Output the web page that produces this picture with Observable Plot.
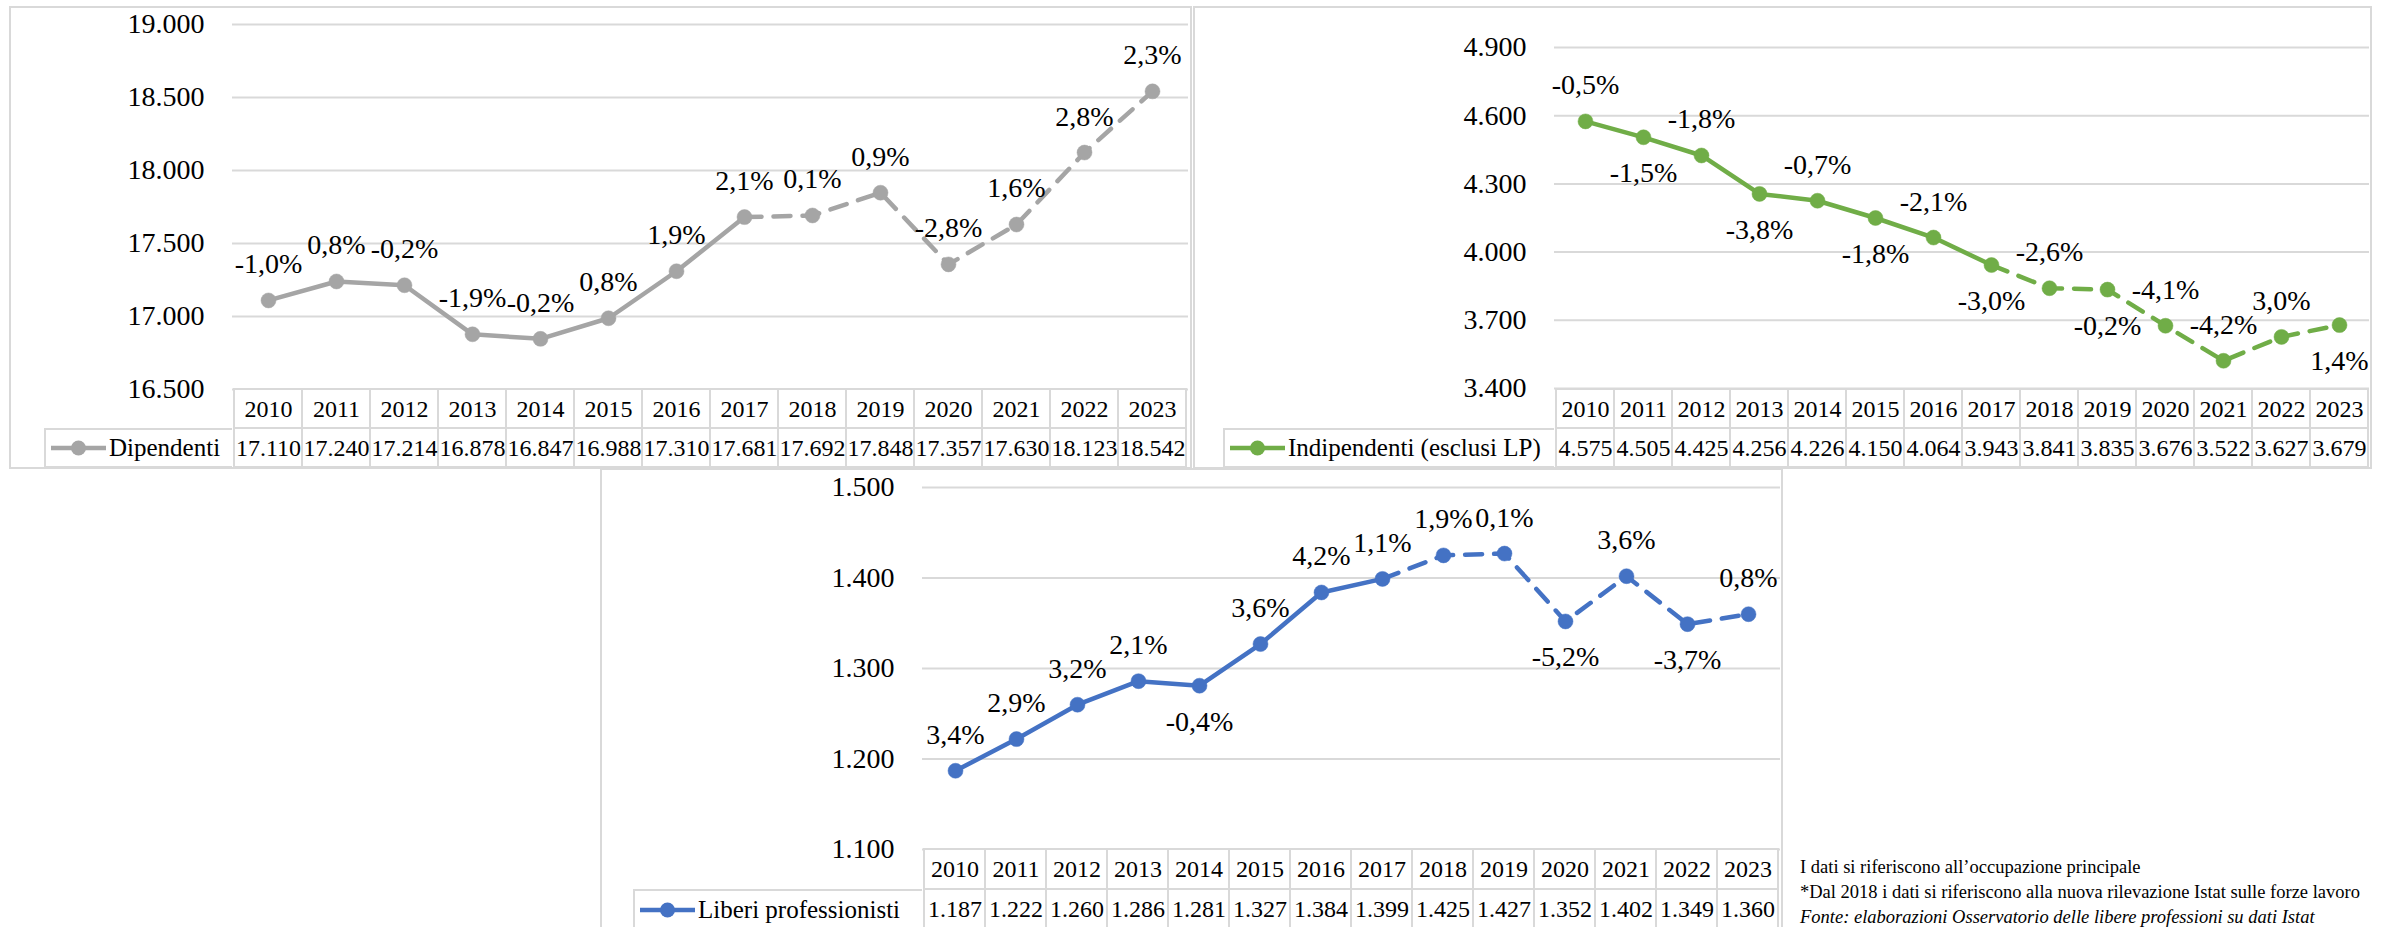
<!DOCTYPE html>
<html lang="it">
<head>
<meta charset="utf-8">
<script src="https://cdn.jsdelivr.net/npm/d3@7"></script>
<script src="https://cdn.jsdelivr.net/npm/@observablehq/plot@0.6"></script>
<style>
  html, body { margin: 0; padding: 0; background: #fff; }
  body { width: 2392px; height: 927px; overflow: hidden; position: relative; font-family: "Liberation Serif", serif; color: #000; }
  .pannello { position: absolute; box-sizing: border-box; border: 2px solid #d9d9d9; background: #fff; }
  .strato { position: absolute; }
  .strato svg { overflow: visible; font-family: "Liberation Serif", serif !important; }
  .legenda { position: absolute; box-sizing: border-box; border: 2px solid #d9d9d9; border-right: none; background: #fff;
             display: flex; align-items: center; font-size: 25px; white-space: nowrap; padding-left: 5px; }
  .legenda svg { margin-right: 3px; flex: none; }
  .note { position: absolute; left: 1800px; font-size: 18.5px; white-space: nowrap; line-height: 25px; }
  .note i { font-style: italic; }
</style>
</head>
<body>
<script>
// Anni della serie
const anni = [2010, 2011, 2012, 2013, 2014, 2015, 2016, 2017, 2018, 2019, 2020, 2021, 2022, 2023];
// Ultimo anno della vecchia rilevazione: da qui la linea prosegue tratteggiata
const ultimoAnnoVecchiaSerie = 2017;

// Dipendenti (migliaia) e variazioni % annue
const dipendenti = [17110, 17240, 17214, 16878, 16847, 16988, 17310, 17681, 17692, 17848, 17357, 17630, 18123, 18542];
const varDipendenti = [-1.0, 0.8, -0.2, -1.9, -0.2, 0.8, 1.9, 2.1, 0.1, 0.9, -2.8, 1.6, 2.8, 2.3];
const etichetteDipendenti = ["sopra", "sopra", "sopra", "sopra", "sopra", "sopra", "sopra", "sopra", "sopra", "sopra", "sopra", "sopra", "sopra", "sopra"];
const tickDipendenti = [16500, 17000, 17500, 18000, 18500, 19000];

// Indipendenti esclusi i liberi professionisti (migliaia) e variazioni % annue
const indipendenti = [4575, 4505, 4425, 4256, 4226, 4150, 4064, 3943, 3841, 3835, 3676, 3522, 3627, 3679];
const varIndipendenti = [-0.5, -1.5, -1.8, -3.8, -0.7, -1.8, -2.1, -3.0, -2.6, -0.2, -4.1, -4.2, 3.0, 1.4];
const etichetteIndipendenti = ["sopra", "sotto", "sopra", "sotto", "sopra", "sotto", "sopra", "sotto", "sopra", "sotto", "sopra", "sopra", "sopra", "sotto"];
const tickIndipendenti = [3400, 3700, 4000, 4300, 4600, 4900];

// Liberi professionisti (migliaia) e variazioni % annue
const liberi = [1187, 1222, 1260, 1286, 1281, 1327, 1384, 1399, 1425, 1427, 1352, 1402, 1349, 1360];
const varLiberi = [3.4, 2.9, 3.2, 2.1, -0.4, 3.6, 4.2, 1.1, 1.9, 0.1, -5.2, 3.6, -3.7, 0.8];
const etichetteLiberi = ["sopra", "sopra", "sopra", "sopra", "sotto", "sopra", "sopra", "sopra", "sopra", "sopra", "sotto", "sopra", "sotto", "sopra"];
const tickLiberi = [1100, 1200, 1300, 1400, 1500];

const note = [
  "I dati si riferiscono all\u2019occupazione principale",
  "*Dal 2018 i dati si riferiscono alla nuova rilevazione Istat sulle forze lavoro",
  "Fonte: elaborazioni Osservatorio delle libere professioni su dati Istat"
];

// Formati all'italiana: punto per le migliaia, virgola per i decimali
const localeIt = d3.formatLocale({decimal: ",", thousands: ".", grouping: [3], currency: ["", "\u00a0€"]});
const fmtNum = localeIt.format(",d");
const fmtPerc = v => (v < 0 ? "-" : "") + Math.abs(v).toFixed(1).replace(".", ",") + "%";

const GRIGLIA = "#d9d9d9";
const stile = size => `font-family: 'Liberation Serif', serif; font-size: ${size}px; color: #000; background: transparent; overflow: visible;`;

function aggiungi(el, left, top) {
  const box = document.createElement("div");
  box.className = "strato";
  box.style.left = left + "px";
  box.style.top = top + "px";
  box.appendChild(el);
  document.body.appendChild(box);
}

function disegnaPannello(p) {
  // cornice del grafico
  const cornice = document.createElement("div");
  cornice.className = "pannello";
  Object.assign(cornice.style, {left: p.box[0] + "px", top: p.box[1] + "px", width: p.box[2] + "px", height: p.box[3] + "px"});
  document.body.appendChild(cornice);

  const dati = anni.map((anno, i) => ({anno, valore: p.valori[i], variazione: p.variazioni[i], posizione: p.posizioni[i]}));
  const larghezza = p.destra - p.sinistra;
  const mLeft = p.xPlot[0] - p.sinistra;
  const mRight = p.destra - p.xPlot[1];

  // area del grafico a linee
  const grafico = Plot.plot({
    width: larghezza,
    height: p.yPlot[1] - p.alto + 1,
    marginLeft: mLeft,
    marginRight: mRight,
    marginTop: p.yPlot[0] - p.alto,
    marginBottom: 1,
    style: stile(28),
    x: {type: "point", domain: anni, padding: 0.5, axis: null},
    y: {domain: [p.ticks[0], p.ticks[p.ticks.length - 1]], ticks: p.ticks, tickFormat: fmtNum, tickSize: 0, tickPadding: 28, label: null},
    marks: [
      Plot.ruleY(p.ticks, {stroke: GRIGLIA, strokeWidth: 2}),
      Plot.line(dati.filter(d => d.anno <= ultimoAnnoVecchiaSerie), {x: "anno", y: "valore", stroke: p.colore, strokeWidth: 4.5}),
      Plot.line(dati.filter(d => d.anno >= ultimoAnnoVecchiaSerie), {x: "anno", y: "valore", stroke: p.colore, strokeWidth: 4.5, strokeDasharray: "17,12"}),
      Plot.dot(dati, {x: "anno", y: "valore", r: 7.5, fill: p.colore, stroke: p.colore, strokeWidth: 0.5}),
      Plot.text(dati.filter(d => d.posizione === "sopra"), {x: "anno", y: "valore", text: d => fmtPerc(d.variazione), dy: -36, fontSize: 28, lineAnchor: "middle", fill: "#000"}),
      Plot.text(dati.filter(d => d.posizione === "sotto"), {x: "anno", y: "valore", text: d => fmtPerc(d.variazione), dy: 36, fontSize: 28, lineAnchor: "middle", fill: "#000"})
    ]
  });
  aggiungi(grafico, p.sinistra, p.alto);

  // tabella dei dati sotto l'asse
  const righe = anni.flatMap((anno, i) => [
    {anno, riga: "anno", testo: String(anno)},
    {anno, riga: "valore", testo: fmtNum(p.valori[i])}
  ]);
  const tabella = Plot.plot({
    width: larghezza,
    height: p.altezzaTabella + 1,
    marginLeft: mLeft,
    marginRight: mRight,
    marginTop: 0,
    marginBottom: 1,
    style: stile(24),
    x: {type: "band", domain: anni, padding: 0, axis: null},
    y: {type: "band", domain: ["anno", "valore"], padding: 0, axis: null},
    marks: [
      Plot.cell(righe, {x: "anno", y: "riga", fill: "#fff", stroke: GRIGLIA, strokeWidth: 2, inset: 0}),
      Plot.text(righe, {x: "anno", y: "riga", text: "testo", fontSize: 24, fill: "#000"})
    ]
  });
  aggiungi(tabella, p.sinistra, p.yPlot[1]);

  // cella della legenda, a sinistra della riga dei valori
  const hRiga = p.altezzaTabella / 2;
  const leg = document.createElement("div");
  leg.className = "legenda";
  Object.assign(leg.style, {left: p.legenda + "px", top: (p.yPlot[1] + hRiga) + "px", width: (p.xPlot[0] - p.legenda) + "px", height: (hRiga + 1) + "px"});
  leg.innerHTML = `<svg width="55" height="20" viewBox="0 0 55 20"><line x1="0" y1="10" x2="55" y2="10" stroke="${p.colore}" stroke-width="4.5"/><circle cx="27.5" cy="10" r="7.5" fill="${p.colore}"/></svg><span>${p.nome}</span>`;
  document.body.appendChild(leg);
}

disegnaPannello({
  nome: "Dipendenti", colore: "#a5a5a5",
  valori: dipendenti, variazioni: varDipendenti, posizioni: etichetteDipendenti, ticks: tickDipendenti,
  box: [9, 6, 1183, 463], sinistra: 0, destra: 1192, alto: 0,
  xPlot: [232, 1188], yPlot: [24, 389], altezzaTabella: 78, legenda: 44
});

disegnaPannello({
  nome: "Indipendenti (esclusi LP)", colore: "#70ad47",
  valori: indipendenti, variazioni: varIndipendenti, posizioni: etichetteIndipendenti, ticks: tickIndipendenti,
  box: [1193, 6, 1179, 463], sinistra: 1192, destra: 2372, alto: 0,
  xPlot: [1554, 2369], yPlot: [47, 388], altezzaTabella: 79, legenda: 1223
});

disegnaPannello({
  nome: "Liberi professionisti", colore: "#4472c4",
  valori: liberi, variazioni: varLiberi, posizioni: etichetteLiberi, ticks: tickLiberi,
  box: [600, 468, 1183, 480], sinistra: 600, destra: 1782, alto: 468,
  xPlot: [922, 1780], yPlot: [487, 849], altezzaTabella: 80, legenda: 633
});

// note a piè di grafico
note.forEach((t, i) => {
  const n = document.createElement("div");
  n.className = "note";
  n.style.top = (855 + i * 25) + "px";
  n.innerHTML = i === 2 ? `<i>${t}</i>` : t;
  document.body.appendChild(n);
});
</script>
</body>
</html>
